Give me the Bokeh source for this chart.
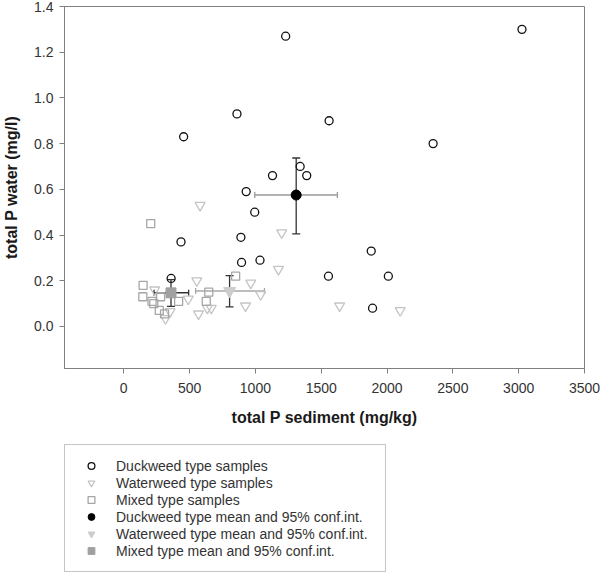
from bokeh.plotting import figure
from bokeh.layouts import column
from bokeh.models import (Range1d, FixedTicker, PrintfTickFormatter, Whisker, TeeHead,
                          ColumnDataSource, Legend, LegendItem)
from bokeh.embed import file_html
from bokeh.resources import INLINE

# ---- data ----
duck_x = [3025, 1230, 860, 1560, 455, 2350, 1340, 1130, 1390, 930, 995, 890, 435, 1880, 1035, 895, 1555, 2010, 360, 1890]
duck_y = [1.30, 1.27, 0.93, 0.90, 0.83, 0.80, 0.70, 0.66, 0.66, 0.59, 0.50, 0.39, 0.37, 0.33, 0.29, 0.28, 0.22, 0.22, 0.21, 0.08]

water_x = [580, 1200, 1175, 555, 965, 235, 1040, 490, 1640, 925, 635, 665, 2100, 352, 568, 317]
water_y = [0.53, 0.41, 0.25, 0.20, 0.19, 0.16, 0.14, 0.12, 0.09, 0.09, 0.08, 0.08, 0.07, 0.065, 0.055, 0.035]

mixed_x = [205, 850, 147, 646, 145, 280, 215, 228, 417, 627, 270, 310]
mixed_y = [0.45, 0.22, 0.18, 0.15, 0.13, 0.13, 0.11, 0.10, 0.11, 0.11, 0.07, 0.055]

groups = ["Duckweed", "Waterweed", "Mixed"]
mean_x = [1310, 804, 359]
mean_y = [0.575, 0.155, 0.147]
ci_x_low = [995, 546, 230]
ci_x_high = [1623, 1069, 493]
ci_y_low = [0.405, 0.086, 0.088]
ci_y_high = [0.737, 0.222, 0.205]

x_ticks = [0, 500, 1000, 1500, 2000, 2500, 3000, 3500]
y_ticks = [0.0, 0.2, 0.4, 0.6, 0.8, 1.0, 1.2, 1.4]

legend_labels = ["Duckweed type samples", "Waterweed type samples", "Mixed type samples",
                 "Duckweed type mean and 95% conf.int.", "Waterweed type mean and 95% conf.int.",
                 "Mixed type mean and 95% conf.int."]

FONT = "Liberation Sans"

# marker styles
sample_markers = ["circle", "inverted_triangle", "square"]
sample_sizes = [8, 10, 8]
sample_colors = ["#111111", "#c4c4c4", "#a6a6a6"]
mean_markers = ["circle", "inverted_triangle", "square"]
mean_sizes = [10, 12, 10]
mean_colors = ["#000000", "#cccccc", "#a0a0a0"]

p = figure(width=600, height=440, output_backend="svg", toolbar_location=None,
           x_range=Range1d(-450, 3500), y_range=Range1d(-0.184, 1.4),
           min_border_left=63, min_border_right=16, min_border_top=6, min_border_bottom=72)
p.grid.visible = False
p.outline_line_color = "#808080"
p.background_fill_color = "white"

p.xaxis.ticker = FixedTicker(ticks=x_ticks)
p.yaxis.ticker = FixedTicker(ticks=y_ticks)
p.yaxis.formatter = PrintfTickFormatter(format="%.1f")
p.xaxis.axis_label = "total P sediment (mg/kg)"
p.yaxis.axis_label = "total P water (mg/l)"
for ax in (p.xaxis[0], p.yaxis[0]):
    ax.axis_line_color = "#808080"
    ax.major_tick_line_color = "#808080"
    ax.major_tick_out = 5
    ax.major_tick_in = 0
    ax.minor_tick_line_color = None
    ax.major_label_text_font = FONT
    ax.major_label_text_font_size = "14px"
    ax.major_label_text_color = "#333333"
    ax.axis_label_text_font = FONT
    ax.axis_label_text_font_style = "bold"
    ax.axis_label_text_font_size = "16px"
    ax.axis_label_text_color = "#1a1a1a"
p.xaxis.major_label_standoff = 9
p.xaxis.axis_label_standoff = 13
p.yaxis.major_label_standoff = 6
p.yaxis.axis_label_standoff = 11

sample_xs = [duck_x, water_x, mixed_x]
sample_ys = [duck_y, water_y, mixed_y]
for i in range(3):
    p.scatter(sample_xs[i], sample_ys[i], marker=sample_markers[i], size=sample_sizes[i],
              fill_color=None, line_color=sample_colors[i], line_width=1.3)

h_colors = ["#9a9a9a", "#a8a8a8", "#333333"]
v_colors = ["#333333", "#333333", "#333333"]
for i in range(len(groups)):
    sv = ColumnDataSource(dict(base=[mean_x[i]], lower=[ci_y_low[i]], upper=[ci_y_high[i]]))
    p.add_layout(Whisker(source=sv, base="base", lower="lower", upper="upper", dimension="height",
                         line_color=v_colors[i], line_width=1.3,
                         upper_head=TeeHead(size=8, line_color=v_colors[i], line_width=1.3),
                         lower_head=TeeHead(size=8, line_color=v_colors[i], line_width=1.3)))
    sh = ColumnDataSource(dict(base=[mean_y[i]], lower=[ci_x_low[i]], upper=[ci_x_high[i]]))
    p.add_layout(Whisker(source=sh, base="base", lower="lower", upper="upper", dimension="width",
                         line_color=h_colors[i], line_width=1.5,
                         upper_head=TeeHead(size=6, line_color=h_colors[i], line_width=1.3),
                         lower_head=TeeHead(size=6, line_color=h_colors[i], line_width=1.3)))

for i in range(len(groups)):
    p.scatter([mean_x[i]], [mean_y[i]], marker=mean_markers[i], size=mean_sizes[i],
              fill_color=mean_colors[i], line_color=mean_colors[i], level="overlay")

# ---- legend panel: a second figure whose only visible part is the legend ----
# (its renderers hold the same data, but its ranges keep them out of view)
pl = figure(width=600, height=133, output_backend="svg", toolbar_location=None,
            x_range=Range1d(-2, -1), y_range=Range1d(-2, -1),
            x_axis_location=None, y_axis_location=None,
            min_border_left=63, min_border_right=0, min_border_top=0, min_border_bottom=1)
pl.grid.visible = False
pl.outline_line_color = None

mean_xs = [[v] for v in mean_x]
mean_ys = [[v] for v in mean_y]
leg_renderers = []
for i in range(3):
    leg_renderers.append(pl.scatter(sample_xs[i], sample_ys[i], marker=sample_markers[i],
                                    size=sample_sizes[i], fill_color=None,
                                    line_color=sample_colors[i], line_width=1.3))
for i in range(3):
    leg_renderers.append(pl.scatter(mean_xs[i], mean_ys[i], marker=mean_markers[i],
                                    size=mean_sizes[i], fill_color=mean_colors[i],
                                    line_color=mean_colors[i]))

legend = Legend(items=[LegendItem(label=lab, renderers=[r]) for lab, r in zip(legend_labels, leg_renderers)],
                location="bottom_left", orientation="vertical",
                border_line_color="#8c8c8c", border_line_width=1,
                background_fill_color="white", background_fill_alpha=1.0,
                padding=12, spacing=0, margin=0,
                glyph_width=28, glyph_height=17, label_height=17, label_width=257,
                label_standoff=11, label_text_font=FONT, label_text_font_size="14px",
                label_text_color="#333333")
pl.add_layout(legend)

layout = column(p, pl, spacing=0)
open("out.html", "w").write(file_html(layout, INLINE))
